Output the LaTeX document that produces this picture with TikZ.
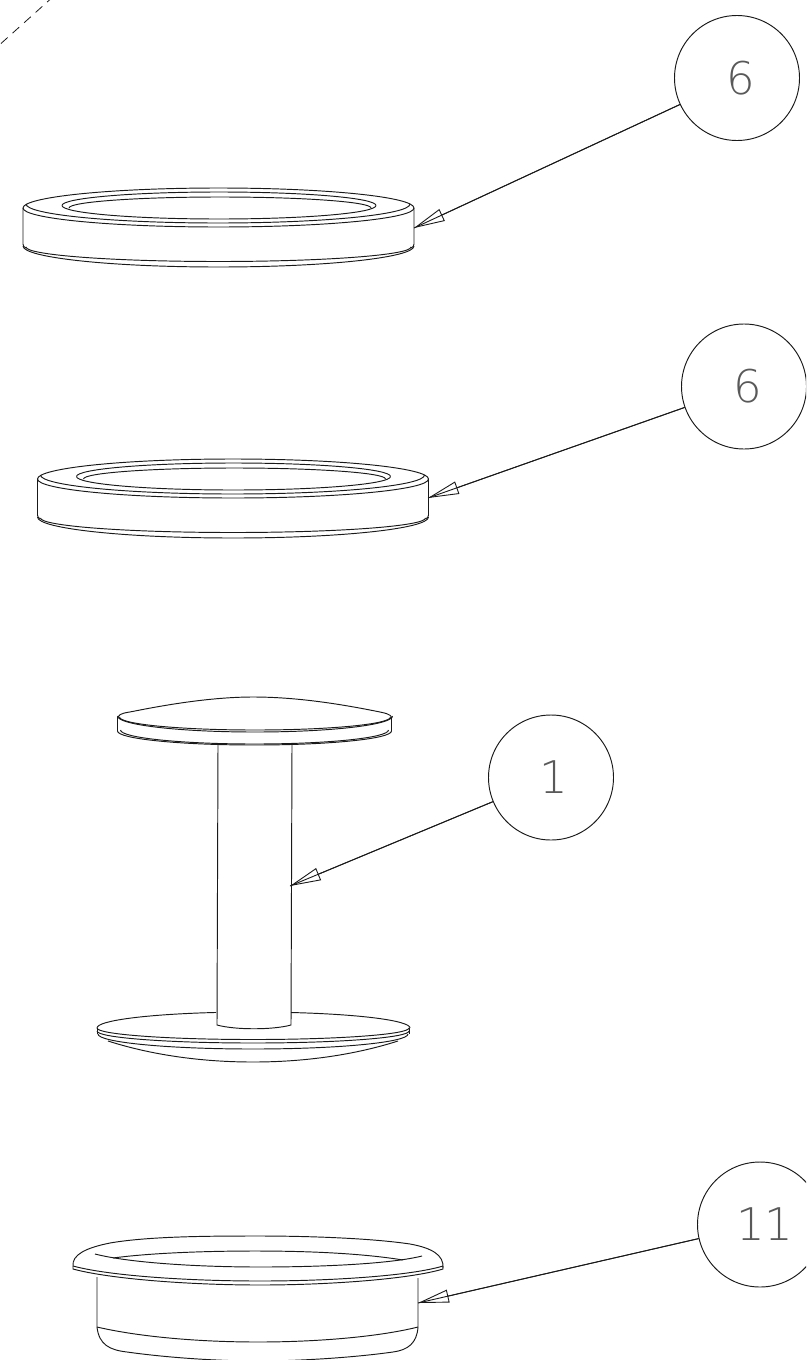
\documentclass[tikz,border=0pt]{standalone}
\usepackage{fontspec}
\newfontfamily\numfont{DejaVu Sans ExtraLight}
\usetikzlibrary{arrows.meta}
\definecolor{ink}{gray}{0.1}
\tikzset{
  part/.style={draw=ink,line width=0.95pt,line join=round},
  balloon/.style={circle,draw=ink,line width=0.95pt,minimum size=125pt,inner sep=0pt,font=\numfont\fontsize{45}{45}\selectfont,text=black!65},
  leader/.style={draw=ink,line width=0.9pt},
  headed/.style={leader,-{Triangle[open,length=31pt,width=13pt,line width=0.9pt]}},
  centerline/.style={draw=ink,line width=0.8pt,dash pattern=on 9pt off 6.5pt}
}
% half ellipses: centre x, centre y, rx, ry
\newcommand\frontarc[4]{\draw[part] ({#1-#3},#2) arc[start angle=180,end angle=0,x radius=#3,y radius=#4];}
\newcommand\reararc[4]{\draw[part] ({#1-#3},#2) arc[start angle=180,end angle=360,x radius=#3,y radius=#4];}
\newcommand\ringpart{%
  \reararc{218.5}{208}{195.5}{20}
  \frontarc{218.5}{208}{195.5}{19}
  \frontarc{218}{204}{192}{19}
  \reararc{219}{205.5}{157}{13.5}
  \frontarc{219}{205.5}{157}{13.5}
  \reararc{220}{208}{151}{11}
  \draw[part] (23,208) -- (23,244) .. controls (23,246) and (24,247) .. (26,248);
  \draw[part] (414,208) -- (414,244) .. controls (414,246) and (413,247) .. (411,248);
  \frontarc{218.5}{247}{192.5}{14.5}
  \frontarc{218.5}{246}{195.5}{21}
}
\begin{document}
\begin{tikzpicture}[x=1pt,y=-1pt]
\useasboundingbox (0,0) rectangle (806,1360);
\clip (0,0) rectangle (806,1360);
% centre line
\coordinate (cla) at (1,43.5);
\coordinate (clb) at (50,-0.5);
\draw[centerline] (cla) -- (clb);
% rings
\ringpart
\begin{scope}[shift={(14.5,271)}]
\ringpart
\end{scope}
% spool, top flange
\draw[part] (118,717) .. controls (120,713) and (125,713) .. (135,711)
  .. controls (180,702) and (220,697) .. (253,697)
  .. controls (290,697) and (330,702) .. (375,711) .. controls (385,713) and (391,714) .. (392,718);
\frontarc{255}{716}{137.5}{16}
\frontarc{255}{717}{135.5}{13}
\draw[part] (117.5,717) -- (117.5,731);
\draw[part] (391.5,717) -- (391.5,731);
\frontarc{254.5}{731}{137}{14}
\frontarc{254.5}{730}{134}{14}
% shaft
\draw[part] (218,745) -- (217,1025) .. controls (235,1030) and (273,1030) .. (291,1025) -- (292,745);
% spool, bottom flange
\draw[part] (97,1028) arc[start angle=180,end angle=256.3,x radius=156,y radius=16];
\draw[part] (291,1012.5) arc[start angle=283.7,end angle=360,x radius=156,y radius=16];
\frontarc{253}{1028}{156}{11.5}
\frontarc{253}{1031}{156}{12}
\frontarc{253}{1034}{155}{15}
\draw[part] (97,1028) -- (97,1034);
\draw[part] (409,1028) -- (409,1034);
\draw[part] (108,1041) .. controls (130,1048) and (180,1062) .. (253,1062)
  .. controls (326,1062) and (376,1048) .. (398,1041);
% cap
\draw[part] (73,1266) .. controls (72,1255) and (85,1248) .. (110,1243)
  .. controls (150,1236) and (215,1236) .. (260,1236)
  .. controls (305,1236) and (370,1238) .. (410,1244)
  .. controls (432,1248) and (444,1255) .. (443,1268);
\draw[part] (73,1266) .. controls (110,1276) and (190,1281) .. (260,1281)
  .. controls (330,1281) and (410,1276) .. (443,1266);
\draw[part] (73,1266) -- (73,1269) .. controls (110,1279) and (190,1285) .. (260,1285)
  .. controls (330,1285) and (410,1279) .. (443,1269) -- (443,1266);
\draw[part] (95,1254) .. controls (130,1263) and (200,1267) .. (260,1267)
  .. controls (320,1267) and (390,1264) .. (422,1256);
\draw[part] (113,1258) .. controls (150,1253) and (205,1251) .. (255,1251)
  .. controls (305,1251) and (360,1253) .. (403,1260);
\draw[part] (97,1277) -- (97,1327) .. controls (99,1345) and (110,1350) .. (127,1352)
  .. controls (170,1358) and (220,1361) .. (258,1361)
  .. controls (296,1361) and (350,1358) .. (393,1352)
  .. controls (408,1350) and (417,1343) .. (418,1327) -- (418,1278);
\draw[part] (97,1327) .. controls (140,1337) and (200,1342) .. (258,1342)
  .. controls (316,1342) and (378,1337) .. (418,1327);
% balloons
\node[balloon] (b1) at (737,78) {\kern8pt 6};
\node[balloon] (b2) at (744,386.5) {\kern8pt 6};
\node[balloon] (b3) at (551,777.5) {\kern6pt 1};
\node[balloon] (b4) at (760,1224.5) {\kern10pt 11};
\coordinate (t1) at (414,228);
\coordinate (t2) at (428,498);
\coordinate (t3) at (290,886);
\coordinate (t4) at (418,1303);
\foreach \b/\t in {b1/t1,b2/t2,b3/t3,b4/t4}{
  \draw[leader] (\b) -- (\t);
  \draw[headed] (\b) -- (\t);
}
\end{tikzpicture}
\end{document}
